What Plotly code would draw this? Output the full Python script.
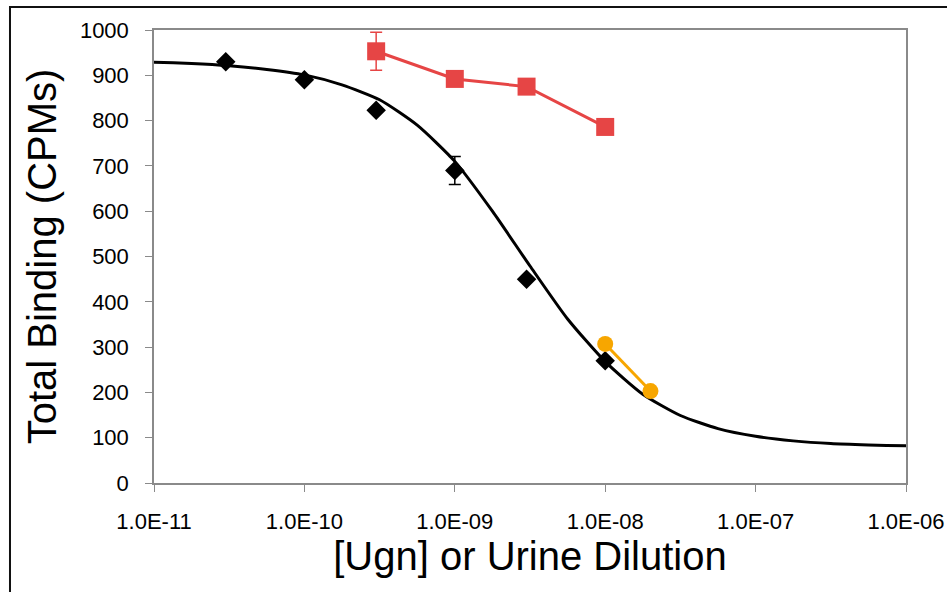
import plotly.graph_objects as go

# Ugn standard curve (black diamonds), mean CPMs and SD
ugn_conc = [3e-11, 1e-10, 3e-10, 1e-9, 3e-9, 1e-8]
ugn_cpm = [930, 890, 823, 690, 450, 270]
ugn_sd = [0, 0, 0, 31, 0, 0]

# Urine sample A (red squares)
urine_a_dil = [3e-10, 1e-9, 3e-9, 1e-8]
urine_a_cpm = [953, 892, 875, 786]
urine_a_sd = [42, 0, 0, 0]

# Urine sample B (orange circles)
urine_b_dil = [1e-8, 2e-8]
urine_b_cpm = [307, 203]

# Fitted competition curve, sampled at quarter-decade steps (log10 of x)
fit_log_x = [-11.05, -11.0, -10.75, -10.5, -10.25, -10.0, -9.75, -9.5, -9.25, -9.0,
             -8.75, -8.5, -8.25, -8.0, -7.75, -7.5, -7.25, -7.0, -6.75, -6.5,
             -6.25, -6.0, -5.94]
fit_cpm = [930, 929, 926, 921, 913, 901, 879, 846, 790, 710,
           600, 479, 362, 268, 196, 149, 120, 103, 93, 87,
           84, 82, 81]
fit_x = [10 ** v for v in fit_log_x]

x_tick_vals = [1e-11, 1e-10, 1e-9, 1e-8, 1e-7, 1e-6]
x_tick_text = ["1.0E-11", "1.0E-10", "1.0E-09", "1.0E-08", "1.0E-07", "1.0E-06"]
y_tick_vals = list(range(0, 1001, 100))

BLACK = "#000000"
RED = "#E64545"
ORANGE = "#F7A600"
AXIS_GREY = "#8a8a8a"
FONT = "Liberation Sans, Arial, sans-serif"

fig = go.Figure()

fig.add_trace(go.Scatter(
    x=fit_x, y=fit_cpm, mode="lines",
    line=dict(color=BLACK, width=3, shape="spline", smoothing=0.6),
    cliponaxis=False, hoverinfo="skip", showlegend=False,
))

fig.add_trace(go.Scatter(
    x=ugn_conc, y=ugn_cpm, mode="markers",
    marker=dict(symbol="diamond", size=15, color=BLACK),
    error_y=dict(type="data", array=ugn_sd, color=BLACK, thickness=1.5, width=6),
    showlegend=False,
))

fig.add_trace(go.Scatter(
    x=urine_a_dil, y=urine_a_cpm, mode="lines+markers",
    line=dict(color=RED, width=3),
    marker=dict(symbol="square", size=18, color=RED),
    error_y=dict(type="data", array=urine_a_sd, color=RED, thickness=1.5, width=6),
    showlegend=False,
))

fig.add_trace(go.Scatter(
    x=urine_b_dil, y=urine_b_cpm, mode="lines+markers",
    line=dict(color=ORANGE, width=3),
    marker=dict(symbol="circle", size=16, color=ORANGE),
    showlegend=False,
))

# Outer frame around the chart area
fig.add_shape(type="rect", xref="paper", yref="paper",
              x0=-0.1915, x1=1.2, y0=-0.4, y1=1.0508,
              line=dict(color="#111111", width=2), fillcolor="rgba(0,0,0,0)",
              layer="below")

fig.update_layout(
    width=947, height=592,
    margin=dict(l=154, r=41, t=30, b=109, autoexpand=False),
    paper_bgcolor="white", plot_bgcolor="white",
    font=dict(family=FONT, color="black", size=22),
)

fig.update_xaxes(
    type="log", range=[-11, -6], automargin=False,
    tickvals=x_tick_vals, ticktext=x_tick_text,
    ticks="outside", ticklen=7, tickwidth=1, tickcolor=AXIS_GREY,
    showline=True, linecolor=AXIS_GREY, linewidth=1.5, mirror=True,
    showgrid=False, zeroline=False,
    tickfont=dict(size=22), ticklabelstandoff=11,
    title=dict(text="[Ugn] or Urine Dilution", font=dict(size=40), standoff=4),
)

fig.update_yaxes(
    range=[0, 1000], automargin=False, tickvals=y_tick_vals,
    ticks="outside", ticklen=7, tickwidth=1, tickcolor=AXIS_GREY,
    showline=True, linecolor=AXIS_GREY, linewidth=1.5, mirror=True,
    showgrid=False, zeroline=False,
    tickfont=dict(size=22), ticklabelstandoff=12,
    title=dict(text="Total Binding (CPMs)", font=dict(size=40), standoff=11),
)

fig.write_html("out.html")
